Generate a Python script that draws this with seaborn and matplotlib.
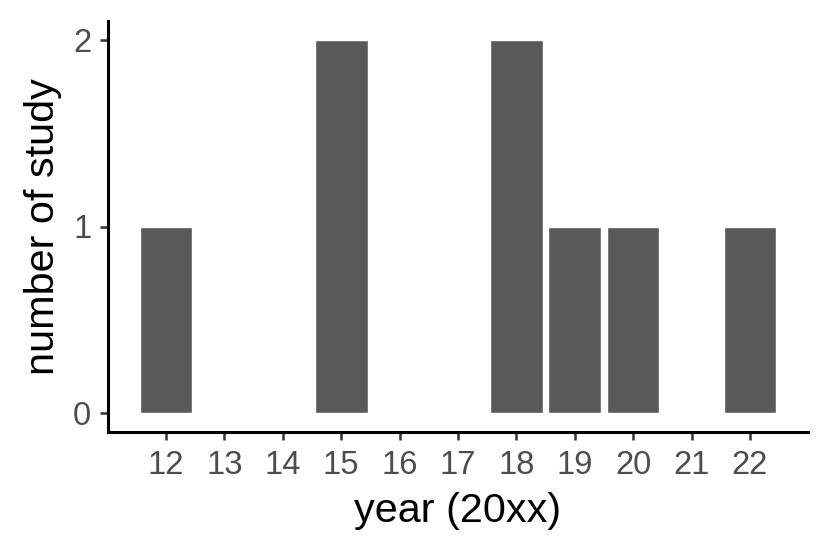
import matplotlib
matplotlib.use("Agg")
import matplotlib.pyplot as plt
import seaborn as sns
import pandas as pd

# studies per publication year (20xx)
years = [12, 15, 18, 19, 20, 22]
counts = [1, 2, 2, 1, 1, 1]
year_ticks = list(range(12, 23))
count_ticks = [0, 1, 2]

sns.set_style("white")
plt.rcParams['font.family'] = ['Liberation Sans', 'DejaVu Sans']

df = pd.DataFrame({'year': years, 'n': counts})

fig = plt.figure(figsize=(8.3, 5.54), dpi=100)
ax = fig.add_axes([108 / 830, 1 - 432 / 554, 700 / 830, 411 / 554])

sns.barplot(data=df, x='year', y='n', native_scale=True, width=0.9,
            color='#595959', saturation=1, ax=ax)

# ggplot-like expansion of the axes
ax.set_xlim(11.005, 22.995)
ax.set_ylim(-0.1, 2.1)
ax.set_xticks(year_ticks)
ax.set_xticklabels([str(y) for y in year_ticks])
ax.set_yticks(count_ticks)

ax.set_xlabel("year (20xx)", fontsize=29.8, color='black', labelpad=8)
ax.set_ylabel("number of study", fontsize=29.8, color='black', labelpad=8)

for side in ['top', 'right']:
    ax.spines[side].set_visible(False)
for side in ['left', 'bottom']:
    ax.spines[side].set_linewidth(2.2)
    ax.spines[side].set_color('black')

ax.tick_params(axis='both', which='major', length=6, width=1.8,
               color='#333333', labelsize=23.6, labelcolor='#4D4D4D',
               pad=6, left=True, bottom=True)
ax.tick_params(axis='x', pad=7)

fig.savefig("out.png", dpi=100)
